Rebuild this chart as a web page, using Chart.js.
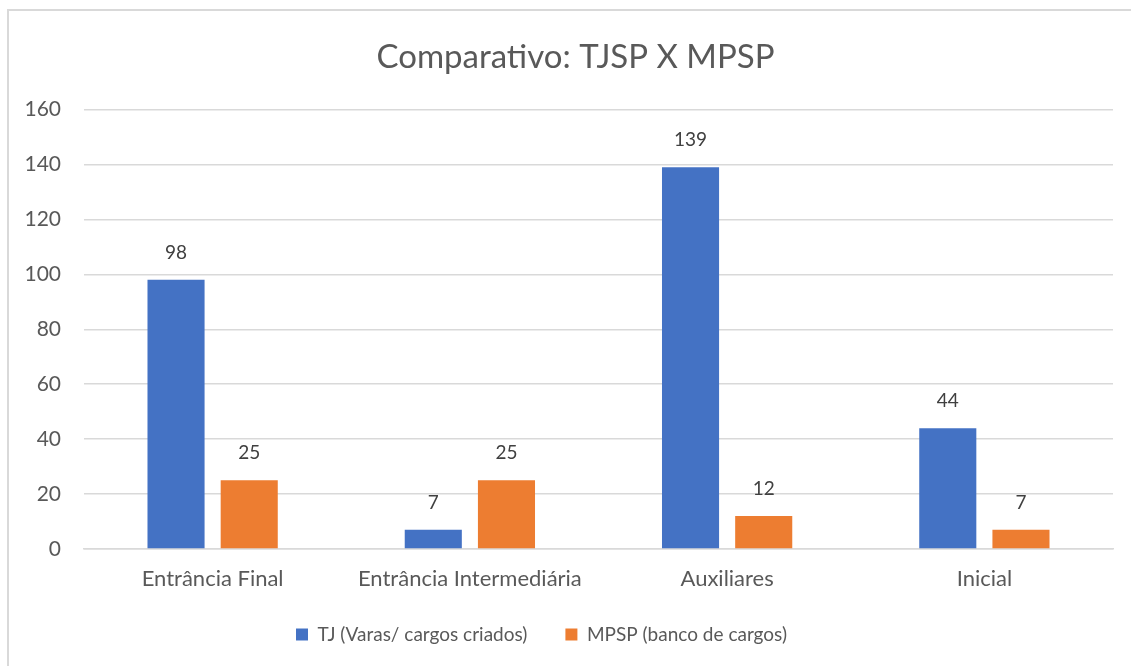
<!DOCTYPE html>
<html>
<head>
<meta charset="utf-8">
<script src="https://cdn.jsdelivr.net/npm/chart.js@4/dist/chart.umd.min.js"></script>
<style>
  html, body { margin: 0; padding: 0; background: #fff; overflow: hidden; }
  #moldura { position: absolute; left: 7px; top: 9px; width: 1200px; height: 800px; border: 2px solid #d9d9d9; }
  #wrap { position: absolute; left: 0; top: 0; width: 1131px; height: 666px; }
</style>
</head>
<body>
<div id="moldura"></div>
<div id="wrap"><canvas id="grafico"></canvas></div>
<script>
const categorias = ['Entrância Final', 'Entrância Intermediária', 'Auxiliares', 'Inicial'];
const tj = [98, 7, 139, 44];
const mpsp = [25, 25, 12, 7];

const fonte = 'Lato, "Liberation Sans", sans-serif';

const rotulos = {
  id: 'rotulos',
  afterDatasetsDraw(chart) {
    const ctx = chart.ctx;
    ctx.save();
    ctx.font = '19px ' + fonte;
    ctx.fillStyle = '#404040';
    ctx.textAlign = 'center';
    ctx.textBaseline = 'middle';
    chart.data.datasets.forEach((ds, i) => {
      chart.getDatasetMeta(i).data.forEach((bar, j) => {
        ctx.fillText(ds.data[j], bar.x, bar.y - 27);
      });
    });
    ctx.restore();
  }
};

// pequeno ajuste horizontal do título e da legenda
const deslocar = {
  id: 'deslocar',
  afterLayout(chart) {
    if (chart.legend) { chart.legend.left -= 25; chart.legend.right -= 25; }
    if (chart.titleBlock) { chart.titleBlock.left += 9; chart.titleBlock.right += 9; }
  }
};

new Chart(document.getElementById('grafico'), {
  type: 'bar',
  data: {
    labels: categorias,
    datasets: [{
      label: 'TJ (Varas/ cargos criados)',
      data: tj,
      backgroundColor: '#4472C4'
    }, {
      label: 'MPSP (banco de cargos)',
      data: mpsp,
      backgroundColor: '#ED7D31'
    }]
  },
  options: {
    responsive: true,
    maintainAspectRatio: false,
    animation: false,
    categoryPercentage: 0.569,
    barPercentage: 0.78,
    layout: { padding: { left: 20, right: 18, top: 23, bottom: 12 } },
    plugins: {
      title: {
        display: true,
        text: 'Comparativo: TJSP X MPSP',
        color: '#595959',
        font: { family: fonte, size: 33, weight: 'normal' },
        padding: { top: 15, bottom: 32 }
      },
      legend: {
        position: 'bottom',
        labels: {
          color: '#595959',
          font: { family: fonte, size: 19 },
          boxWidth: 12,
          boxHeight: 12,
          padding: 38
        }
      },
      tooltip: { enabled: false }
    },
    scales: {
      x: {
        grid: { display: false },
        border: { color: '#d9d9d9', width: 1.5 },
        ticks: { color: '#595959', font: { family: fonte, size: 22 }, padding: 9 },
        afterFit(scale) { scale.height = 38; }
      },
      y: {
        min: 0,
        max: 160,
        ticks: { stepSize: 20, color: '#595959', font: { family: fonte, size: 21 }, padding: 23 },
        grid: { color: '#d9d9d9', lineWidth: 1.5, drawTicks: false },
        border: { display: false },
        afterFit(scale) { scale.width = 64; }
      }
    }
  },
  plugins: [rotulos, deslocar]
});
</script>
</body>
</html>
